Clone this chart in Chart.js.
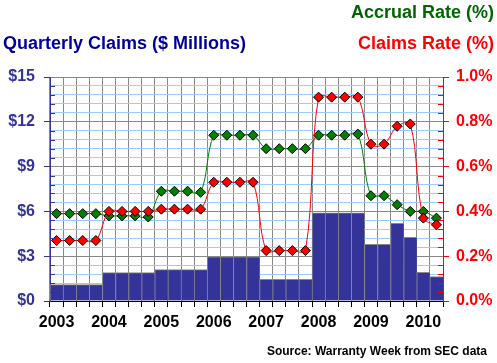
<!DOCTYPE html>
<html>
<head>
<meta charset="utf-8">
<script src="https://cdn.jsdelivr.net/npm/chart.js@4/dist/chart.umd.min.js"></script>
<style>
  body { margin: 0; background: #fff; }
  #wrap { width: 497px; height: 363px; position: relative; }
</style>
</head>
<body>
<div id="wrap"><canvas id="chart"></canvas></div>
<script>
const years = ['2003', '2004', '2005', '2006', '2007', '2008', '2009', '2010'];
const quarters = ['Q1', 'Q2', 'Q3', 'Q4'];

// quarterly claims, $ millions (2003 Q1 .. 2010 Q2)
const claims = [1.1, 1.1, 1.1, 1.1, 1.9, 1.9, 1.9, 1.9, 2.1, 2.1, 2.1, 2.1,
  2.95, 2.95, 2.95, 2.95, 1.45, 1.45, 1.45, 1.45, 5.9, 5.9, 5.9, 5.9,
  3.8, 3.8, 5.2, 4.27, 1.92, 1.63];

// rates, % of sales
const accrualRate = [0.39, 0.39, 0.39, 0.39, 0.38, 0.38, 0.38, 0.375, 0.49, 0.49, 0.49, 0.485,
  0.74, 0.74, 0.74, 0.74, 0.68, 0.68, 0.68, 0.68, 0.74, 0.74, 0.74, 0.745,
  0.47, 0.47, 0.43, 0.40, 0.40, 0.37];
const claimsRate = [0.27, 0.27, 0.27, 0.27, 0.40, 0.40, 0.40, 0.40, 0.41, 0.41, 0.41, 0.41,
  0.53, 0.53, 0.53, 0.53, 0.225, 0.225, 0.225, 0.225, 0.91, 0.91, 0.91, 0.91,
  0.70, 0.70, 0.78, 0.79, 0.37, 0.34];

const labels = [];
years.forEach(y => quarters.forEach(q => labels.push(y + ' ' + q)));
labels.length = claims.length;

const FONT = '"Liberation Sans", Arial, sans-serif';
const isMajor = (v, step) => Math.abs(v / step - Math.round(v / step)) < 1e-6;

// titles + small inward minor ticks
const extras = {
  id: 'extras',
  afterDraw(chart) {
    const c = chart.ctx;
    const area = chart.chartArea;
    c.save();
    const y = chart.scales.y, y1 = chart.scales.y1;
    c.lineWidth = 1;
    y.ticks.forEach(t => {
      if (isMajor(t.value, 3)) return;
      const py = Math.round(y.getPixelForValue(t.value)) + 0.5;
      c.strokeStyle = '#333399';
      c.beginPath(); c.moveTo(area.left, py); c.lineTo(area.left + 5, py); c.stroke();
    });
    y1.ticks.forEach(t => {
      if (isMajor(t.value, 0.2)) return;
      const py = Math.round(y1.getPixelForValue(t.value)) + 0.5;
      c.strokeStyle = '#ff0000';
      c.beginPath(); c.moveTo(area.right - 5, py); c.lineTo(area.right, py); c.stroke();
    });

    c.font = 'bold 18px ' + FONT;
    c.textBaseline = 'alphabetic';
    c.textAlign = 'right';
    c.fillStyle = '#006600';
    c.fillText('Accrual Rate (%)', 494, 18);
    c.fillStyle = '#ff0000';
    c.fillText('Claims Rate (%)', 494, 49);
    c.textAlign = 'left';
    c.fillStyle = '#000099';
    c.fillText('Quarterly Claims ($ Millions)', 3, 49);
    c.font = 'bold 12px ' + FONT;
    c.textAlign = 'right';
    c.fillStyle = '#000';
    c.fillText('Source: Warranty Week from SEC data', 487, 355);
    c.restore();
  }
};

new Chart(document.getElementById('chart'), {
  data: {
    labels: labels,
    datasets: [
      {
        type: 'line',
        label: 'Claims Rate (%)',
        data: claimsRate,
        yAxisID: 'y1',
        borderColor: '#ff0000',
        borderWidth: 1,
        tension: 0.35,
        pointStyle: 'rectRot',
        pointRadius: 5,
        pointBackgroundColor: '#ff0000',
        pointBorderColor: '#000',
        pointBorderWidth: 1,
        order: 1
      },
      {
        type: 'line',
        label: 'Accrual Rate (%)',
        data: accrualRate,
        yAxisID: 'y1',
        borderColor: '#008000',
        borderWidth: 1,
        tension: 0.35,
        pointStyle: 'rectRot',
        pointRadius: 5,
        pointBackgroundColor: '#008000',
        pointBorderColor: '#000',
        pointBorderWidth: 1,
        order: 2
      },
      {
        type: 'bar',
        label: 'Quarterly Claims',
        data: claims,
        yAxisID: 'y',
        backgroundColor: '#333399',
        borderColor: '#888888',
        borderWidth: { top: 1, left: 1, right: 0, bottom: 0 },
        borderSkipped: false,
        barPercentage: 1,
        categoryPercentage: 1,
        order: 3
      }
    ]
  },
  options: {
    responsive: true,
    maintainAspectRatio: false,
    animation: false,
    layout: { padding: { top: 77, left: 0, right: 0, bottom: 0 } },
    plugins: {
      legend: { display: false },
      tooltip: { enabled: false }
    },
    scales: {
      x: {
        offset: true,
        grid: { offset: true, color: '#888888', tickColor: '#000', tickLength: 6 },
        border: { color: '#000' },
        ticks: {
          autoSkip: false,
          maxRotation: 0,
          padding: 6,
          color: '#000',
          font: { family: FONT, size: 16, weight: 'bold' },
          callback: (v, i) => i % 4 === 0 ? years[i / 4] : ''
        },
        afterFit: s => { s.height = 62; }
      },
      y: {
        position: 'left',
        min: 0,
        max: 15,
        grid: {
          color: ctx => isMajor(ctx.tick.value, 3) ? '#888888' : '#99ccff',
          tickColor: ctx => isMajor(ctx.tick.value, 3) ? '#333399' : 'rgba(0,0,0,0)',
          tickLength: 6
        },
        border: { color: '#333399' },
        ticks: {
          stepSize: 0.6,
          autoSkip: false,
          padding: 9,
          color: '#333399',
          font: { family: FONT, size: 16, weight: 'bold' },
          callback: v => isMajor(v, 3) ? '$' + Math.round(v) : ''
        },
        afterFit: s => { s.width = 50; }
      },
      y1: {
        position: 'right',
        min: 0,
        max: 1.0,
        grid: {
          drawOnChartArea: false,
          tickColor: ctx => isMajor(ctx.tick.value, 0.2) ? '#ff0000' : 'rgba(0,0,0,0)',
          tickLength: 6
        },
        border: { color: '#ff0000' },
        ticks: {
          stepSize: 0.04,
          autoSkip: false,
          padding: 7,
          color: '#ff0000',
          font: { family: FONT, size: 16, weight: 'bold' },
          callback: v => isMajor(v, 0.2) ? v.toFixed(1) + '%' : ''
        },
        afterFit: s => { s.width = 54; }
      }
    }
  },
  plugins: [extras]
});
</script>
</body>
</html>
